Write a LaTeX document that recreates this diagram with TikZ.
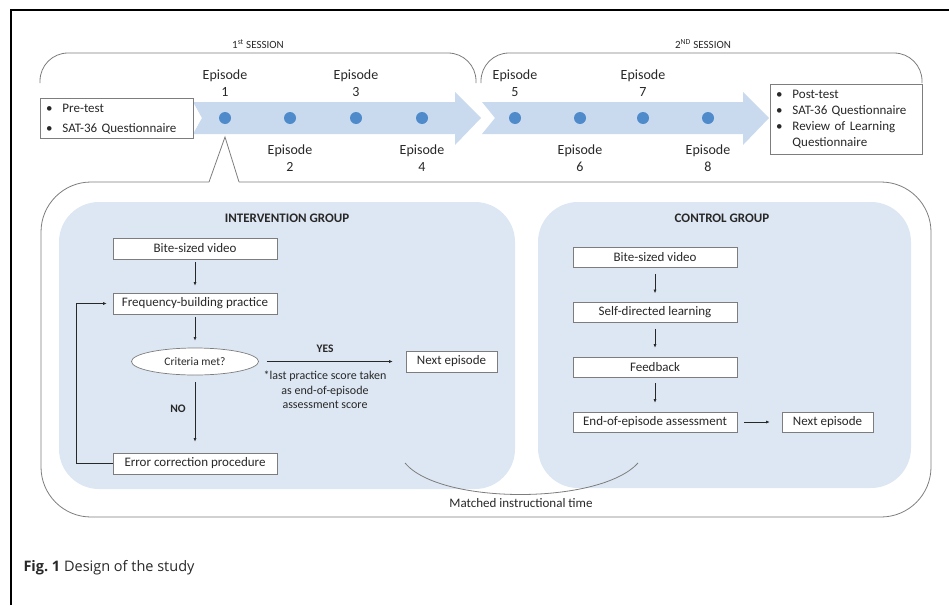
\documentclass[tikz,border=0pt]{standalone}
\usepackage{fontspec}
\setmainfont{Carlito}
\newfontfamily\capfont{Open Sans}
\usetikzlibrary{positioning,arrows.meta,shapes.geometric}

\definecolor{bandblue}{RGB}{201,218,239}
\definecolor{panelblue}{RGB}{221,231,243}
\definecolor{dotblue}{RGB}{79,139,203}
\definecolor{edgegray}{RGB}{125,125,125}
\definecolor{inkgray}{RGB}{40,40,40}

\tikzset{
  stagebox/.style={draw=edgegray, fill=white, line width=0.7pt, minimum width=164pt,
    minimum height=21pt, inner sep=0pt, font=\fontsize{13}{15}\selectfont, text=inkgray},
  nextbox/.style={stagebox, minimum width=91pt},
  listbox/.style={draw=edgegray, fill=white, line width=0.7pt, inner xsep=6pt,
    inner ysep=0pt, align=left, text=inkgray},
  epdot/.style={circle, fill=dotblue, minimum size=12pt, inner sep=0pt},
  eplabel/.style={align=center, font=\fontsize{14}{17}\selectfont, text=inkgray},
  flow/.style={-{Latex[length=3.5pt,width=3pt]}, line width=0.6pt, draw=inkgray,
    shorten <=4pt, shorten >=8pt},
  grouptitle/.style={font=\bfseries\fontsize{13}{15}\selectfont, text=inkgray},
  flowlabel/.style={font=\bfseries\fontsize{11.5}{13}\selectfont, text=inkgray},
  callout/.style={draw=edgegray, line width=0.8pt},
}

\begin{document}
\begin{tikzpicture}[x=1pt,y=-1pt]
    \useasboundingbox (0,0) rectangle (949,605);

    % page frame
    \draw[line width=1.8pt] (11,605) -- (11,10) -- (949,10);

    % session brackets
    \draw[callout, rounded corners=28pt] (40,83) -- (40,53) -- (476,53) -- (476,83);
    \draw[callout, rounded corners=28pt] (481,83) -- (481,53) -- (922,53) -- (922,83);
    \node[font=\fontsize{11}{13}\selectfont, text=inkgray] (sess1) at (258,44) {1\textsuperscript{st} SESSION};
    \node[font=\fontsize{11}{13}\selectfont, text=inkgray] (sess2) at (703,44) {2\textsuperscript{ND} SESSION};

    % timeline arrows
    \fill[bandblue] (193,102) -- (455,102) -- (455,92) -- (481,118) -- (455,145)
        -- (455,134) -- (193,134) -- (202,118) -- cycle;
    \fill[bandblue] (482,102) -- (743,102) -- (743,92) -- (769,118) -- (743,145)
        -- (743,134) -- (482,134) -- (495,118) -- cycle;

    % pre and post measures
    \node[listbox, font=\fontsize{13}{20}\selectfont, text width=141pt, minimum height=40pt] (pre) at (116.5,118)
        {\begin{tabular}{@{}l@{\hspace{10pt}}l@{}}
         \textbullet & Pre-test\\
         \textbullet & SAT-36 Questionnaire
         \end{tabular}};
    \node[listbox, font=\fontsize{13}{16}\selectfont, text width=140pt, minimum height=70pt] (post) at (846,119)
        {\begin{tabular}{@{}l@{\hspace{10pt}}l@{}}
         \textbullet & Post-test\\
         \textbullet & SAT-36 Questionnaire\\
         \textbullet & Review of Learning\\
                     & Questionnaire
         \end{tabular}};

    % episodes
    \node[epdot] (d1) at (225,118) {};
    \node[epdot] (d2) at (290,118) {};
    \node[epdot] (d3) at (356,118) {};
    \node[epdot] (d4) at (422,118) {};
    \node[epdot] (d5) at (515,118) {};
    \node[epdot] (d6) at (580,118) {};
    \node[epdot] (d7) at (643,118) {};
    \node[epdot] (d8) at (708,118) {};
    \node[eplabel] (ep1) at (225,83) {Episode\\1};
    \node[eplabel] (ep2) at (290,158) {Episode\\2};
    \node[eplabel] (ep3) at (356,83) {Episode\\3};
    \node[eplabel] (ep4) at (422,158) {Episode\\4};
    \node[eplabel] (ep5) at (515,83) {Episode\\5};
    \node[eplabel] (ep6) at (580,158) {Episode\\6};
    \node[eplabel] (ep7) at (643,83) {Episode\\7};
    \node[eplabel] (ep8) at (708,158) {Episode\\8};

    % call-out from episode 1
    \draw[callout, rounded corners=50pt] (239,182) -- (931,182) -- (931,517) -- (41,517) -- (41,182) -- (209,182);
    \draw[callout] (209,182) -- (225,137) -- (239,182);

    % group panels
    \fill[panelblue, rounded corners=40pt] (59,202) rectangle (515,489);
    \fill[panelblue, rounded corners=40pt] (538,202) rectangle (911,488);

    % intervention group
    \node[grouptitle] (igroup) at (287,218) {INTERVENTION GROUP};
    \node[stagebox] (ivideo) at (195,248.5) {Bite-sized video};
    \node[stagebox] (ifreq) at (195,303.5) {Frequency-building practice};
    \node[ellipse, draw=edgegray, fill=white, line width=0.7pt, minimum width=127pt, minimum height=27pt,
        inner sep=0pt, font=\fontsize{11.5}{13}\selectfont, text=inkgray] (icrit) at (195,361.5) {Criteria met?};
    \node[nextbox] (inext) at (451.5,361.5) {Next episode};
    \node[stagebox] (ierror) at (195,463.5) {Error correction procedure};
    \node[flowlabel] (yes) at (325,349) {YES};
    \node[flowlabel] (no) at (178,409) {NO};
    \node[align=center, font=\fontsize{12}{14.5}\selectfont, text=inkgray] (note) at (325,390)
        {*last practice score taken\\as end-of-episode\\assessment score};

    \draw[flow, shorten <=3pt, shorten >=7pt] (ivideo) -- (ifreq);
    \draw[flow, shorten <=3pt, shorten >=7pt] (ifreq) -- (icrit);
    \draw[flow, shorten <=8pt, shorten >=13pt] (icrit) -- (inext);
    \draw[flow, shorten <=7pt, shorten >=11pt] (icrit) -- (ierror);
    \draw[flow, shorten <=0pt, shorten >=6pt] (ierror.west) -- ++(-36,0) |- (ifreq.west);

    % control group
    \node[grouptitle] (cgroup) at (722,218) {CONTROL GROUP};
    \node[stagebox, minimum height=20pt] (cvideo) at (655,257.5) {Bite-sized video};
    \node[stagebox, minimum height=20pt] (cself) at (655,312.5) {Self-directed learning};
    \node[stagebox, minimum height=20pt] (cfeed) at (655,367) {Feedback};
    \node[stagebox, minimum height=20pt] (cend) at (655,422) {End-of-episode assessment};
    \node[nextbox, minimum height=20pt] (cnext) at (827.5,422) {Next episode};

    \draw[flow, shorten <=6pt, shorten >=9pt] (cvideo) -- (cself);
    \draw[flow, shorten <=6pt, shorten >=9pt] (cself) -- (cfeed);
    \draw[flow, shorten <=6pt, shorten >=9pt] (cfeed) -- (cend);
    \draw[flow, shorten <=7pt, shorten >=12pt] (cend) -- (cnext);

    % matched time
    \draw[edgegray, line width=0.8pt] (405,463) .. controls (440,505) and (600,505) .. (638,463);
    \node[font=\fontsize{13}{15}\selectfont, text=inkgray] (matched) at (521,503) {Matched instructional time};

    % caption
    \node[anchor=west, font=\capfont\fontsize{14.5}{17}\selectfont, text=inkgray] (caption) at (20,568)
        {\textbf{Fig.\ 1} Design of the study};
\end{tikzpicture}
\end{document}
